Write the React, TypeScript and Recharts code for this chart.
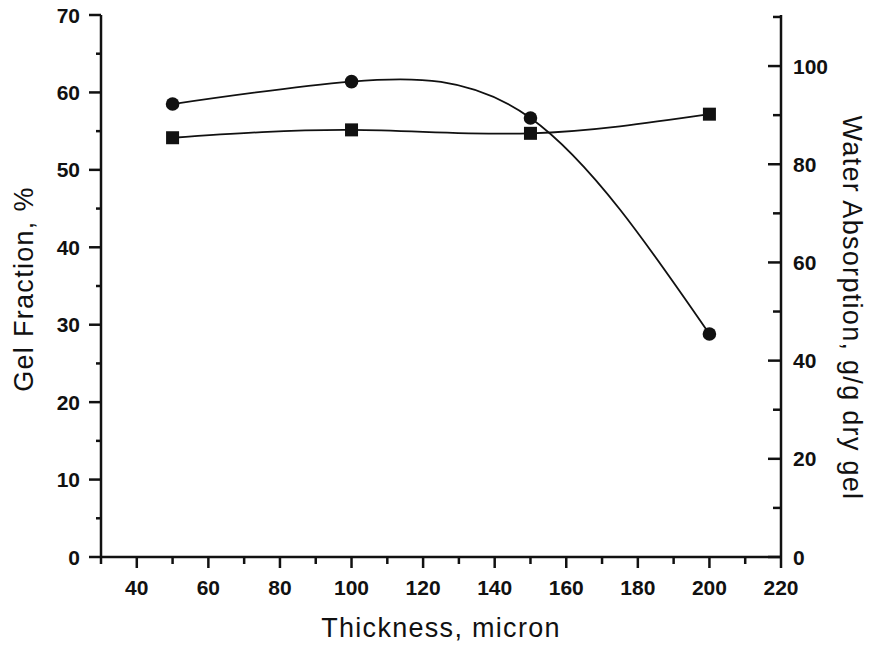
import React from 'react';
import { LineChart, Line, XAxis, YAxis } from 'recharts';

// thickness (micron) vs gel fraction (%) and water absorption (g/g dry gel)
const thickness = [50, 100, 150, 200];
const gelFraction = [58.5, 61.4, 56.7, 28.8];
const waterAbsorption = [85.4, 87.0, 86.3, 90.2];

// axis ticks: every entry gets a tick mark, only the label lists get text
const xTicks = [30, 40, 50, 60, 70, 80, 90, 100, 110, 120, 130, 140, 150, 160, 170, 180, 190, 200, 210, 220];
const xLabels = [40, 60, 80, 100, 120, 140, 160, 180, 200, 220];
const leftTicks = [0, 5, 10, 15, 20, 25, 30, 35, 40, 45, 50, 55, 60, 65, 70];
const leftLabels = [0, 10, 20, 30, 40, 50, 60, 70];
const rightTicks = [0, 10, 20, 30, 40, 50, 60, 70, 80, 90, 100, 110];
const rightLabels = [0, 20, 40, 60, 80, 100];

const data = thickness.map((t, i) => ({
  thickness: t,
  gel: gelFraction[i],
  water: waterAbsorption[i],
}));

const FONT = '"Liberation Sans", Arial, Helvetica, sans-serif';
const INK = '#111';

const tickText = {
  fontFamily: FONT,
  fontSize: 21,
  fontWeight: 'bold' as const,
  fill: INK,
};

const titleText = {
  fontFamily: FONT,
  fontSize: 27,
  letterSpacing: 1.3,
  fill: INK,
};

const XTick = (props: any) => {
  const { x, y, payload } = props;
  const major = xLabels.includes(payload.value);
  return (
    <g>
      <line x1={x} x2={x} y1={y} y2={y + (major ? 11 : 7)} stroke={INK} strokeWidth={2.5} />
      {major && (
        <text x={x} y={y + 38} textAnchor="middle" {...tickText}>
          {payload.value}
        </text>
      )}
    </g>
  );
};

const LeftTick = (props: any) => {
  const { x, y, payload } = props;
  const major = leftLabels.includes(payload.value);
  return (
    <g>
      <line x1={x - (major ? 12 : 5)} x2={x} y1={y} y2={y} stroke={INK} strokeWidth={2.5} />
      {major && (
        <text x={x - 21} y={y + 7.5} textAnchor="end" {...tickText}>
          {payload.value}
        </text>
      )}
    </g>
  );
};

const RightTick = (props: any) => {
  const { x, y, payload } = props;
  const major = rightLabels.includes(payload.value);
  return (
    <g>
      <line x1={x - (major ? 13 : 8)} x2={x} y1={y} y2={y} stroke={INK} strokeWidth={2.5} />
      {major && (
        <text x={x + 12} y={y + 7.5} textAnchor="start" {...tickText}>
          {payload.value}
        </text>
      )}
    </g>
  );
};

const SquareDot = (props: any) => {
  const { cx, cy, index } = props;
  return <rect key={`sq-${index}`} x={cx - 6.5} y={cy - 6.5} width={13} height={13} fill={INK} />;
};

const CircleDot = (props: any) => {
  const { cx, cy, index } = props;
  return <circle key={`ci-${index}`} cx={cx} cy={cy} r={6.8} fill={INK} />;
};

const App: React.FC = () => {
  return (
    <div style={{ position: 'absolute', left: 0, top: 0, background: '#fff' }}>
      <LineChart width={871} height={647} data={data} margin={{ top: 15, right: 0, left: 0, bottom: 0 }}>
        <XAxis
          dataKey="thickness"
          type="number"
          domain={[30, 220]}
          ticks={xTicks}
          interval={0}
          height={90}
          tickSize={0}
          tickMargin={0}
          tick={<XTick />}
          axisLine={{ stroke: INK, strokeWidth: 2.5 }}
          label={() => (
            <text x={441} y={637} textAnchor="middle" {...titleText}>
              Thickness, micron
            </text>
          )}
        />
        <YAxis
          yAxisId="left"
          orientation="left"
          type="number"
          domain={[0, 70]}
          ticks={leftTicks}
          interval={0}
          width={101}
          tickSize={0}
          tickMargin={0}
          tick={<LeftTick />}
          axisLine={{ stroke: INK, strokeWidth: 2.5 }}
          label={() => (
            <text x={33} y={289} textAnchor="middle" transform="rotate(-90 33 289)" {...titleText}>
              Gel Fraction, %
            </text>
          )}
        />
        <YAxis
          yAxisId="right"
          orientation="right"
          type="number"
          domain={[0, 110.4]}
          ticks={rightTicks}
          interval={0}
          width={90}
          tickSize={0}
          tickMargin={0}
          tick={<RightTick />}
          axisLine={{ stroke: INK, strokeWidth: 2.5 }}
          label={() => (
            <text x={843} y={308} textAnchor="middle" transform="rotate(90 843 308)" {...titleText}>
              Water Absorption, g/g dry gel
            </text>
          )}
        />
        <Line
          yAxisId="right"
          type="natural"
          dataKey="water"
          stroke={INK}
          strokeWidth={1.8}
          dot={SquareDot}
          activeDot={false}
          isAnimationActive={false}
        />
        <Line
          yAxisId="left"
          type="natural"
          dataKey="gel"
          stroke={INK}
          strokeWidth={1.8}
          dot={CircleDot}
          activeDot={false}
          isAnimationActive={false}
        />
      </LineChart>
    </div>
  );
};

export default App;
